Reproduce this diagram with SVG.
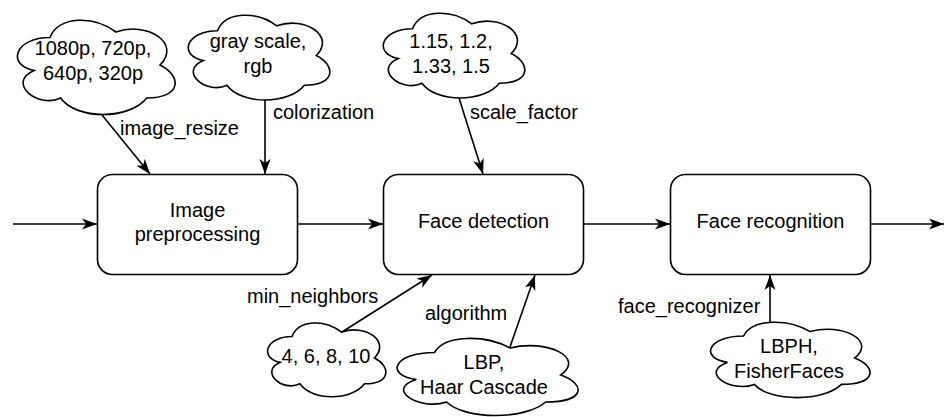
<svg xmlns="http://www.w3.org/2000/svg" width="945" height="417" viewBox="0 0 945 417">
  <style>
    .box { fill: #ffffff; stroke: #000000; stroke-width: 1.6; }
    .cloud { fill: #ffffff; stroke: #000000; stroke-width: 1.6; }
    .edge { fill: none; stroke: #000000; stroke-width: 1.6; marker-end: url(#arrow); }
    text { font-family: "Liberation Sans", Arial, Helvetica, sans-serif; font-size: 20px; fill: #000000; }
    .c { text-anchor: middle; }
  </style>
  <defs>
    <marker id="arrow" viewBox="0 0 16 12" markerWidth="16" markerHeight="12" refX="15" refY="6" orient="auto" markerUnits="userSpaceOnUse">
      <path d="M15,6 L0,0.5 L4,6 L0,11.5 Z" fill="#000000"/>
    </marker>
  </defs>
  <rect width="945" height="417" fill="#ffffff"/>

  <!-- connectors -->
  <g id="connectors">
    <line class="edge" x1="13" y1="224" x2="97" y2="224"/>
    <line class="edge" x1="298" y1="224" x2="383" y2="224"/>
    <line class="edge" x1="584" y1="224" x2="670" y2="224"/>
    <line class="edge" x1="871" y1="224" x2="944" y2="224"/>
    <line class="edge" x1="102" y1="115" x2="150" y2="174"/>
    <line class="edge" x1="265" y1="100" x2="265" y2="174"/>
    <line class="edge" x1="459" y1="98" x2="483" y2="174"/>
    <line class="edge" x1="342" y1="332" x2="432" y2="275"/>
    <line class="edge" x1="510" y1="347" x2="535" y2="275"/>
    <line class="edge" x1="770" y1="322.5" x2="770" y2="275"/>
    <text x="120" y="135">image_resize</text>
    <text x="273" y="119">colorization</text>
    <text x="470" y="119">scale_factor</text>
    <text x="247" y="303">min_neighbors</text>
    <text x="425" y="320">algorithm</text>
    <text x="618" y="313">face_recognizer</text>
  </g>

  <!-- process steps -->
  <g id="image-preprocessing">
    <rect class="box" x="97.5" y="174.5" width="200" height="100" rx="15" ry="15"/>
    <text class="c" x="197.5" y="217">Image</text>
    <text class="c" x="197.5" y="241">preprocessing</text>
  </g>
  <g id="face-detection">
    <rect class="box" x="383.5" y="174.5" width="200" height="100" rx="15" ry="15"/>
    <text class="c" x="483.5" y="228">Face detection</text>
  </g>
  <g id="face-recognition">
    <rect class="box" x="670.5" y="174.5" width="200" height="100" rx="15" ry="15"/>
    <text class="c" x="770.5" y="228">Face recognition</text>
  </g>

  <!-- parameter value clouds -->
  <g id="resize-values">
    <path class="cloud" d="M50,37.5 C14.8,37.5 6,65 34.16,70.5 C6,82.6 37.68,109 60.56,98 C76.4,120 129.2,120 146.8,98 C182,98 182,76 160,65 C182,43 146.8,21 116,32 C94,15.5 58.8,15.5 50,37.5 Z"/>
    <text class="c" x="93" y="55">1080p, 720p,</text>
    <text class="c" x="93" y="80">640p, 320p</text>
  </g>
  <g id="color-values">
    <path class="cloud" d="M217.5,30.75 C185.9,30.75 178,55.5 203.28,60.45 C178,71.34 206.44,95.1 226.98,85.2 C241.2,105 288.6,105 304.4,85.2 C336,85.2 336,65.4 316.25,55.5 C336,35.7 304.4,15.9 276.75,25.8 C257,10.95 225.4,10.95 217.5,30.75 Z"/>
    <text class="c" x="258" y="48">gray scale,</text>
    <text class="c" x="258" y="73">rgb</text>
  </g>
  <g id="scale-values">
    <path class="cloud" d="M412.5,28.75 C380.9,28.75 373,53.5 398.28,58.45 C373,69.34 401.44,93.1 421.98,83.2 C436.2,103 483.6,103 499.4,83.2 C531,83.2 531,63.4 511.25,53.5 C531,33.7 499.4,13.9 471.75,23.8 C452,8.95 420.4,8.95 412.5,28.75 Z"/>
    <text class="c" x="451" y="48">1.15, 1.2,</text>
    <text class="c" x="451" y="73">1.33, 1.5</text>
  </g>
  <g id="neighbor-values">
    <path class="cloud" d="M292,336.5 C265.6,336.5 259,358 280.12,362.3 C259,371.76 282.76,392.4 299.92,383.8 C311.8,401 351.4,401 364.6,383.8 C391,383.8 391,366.6 374.5,358 C391,340.8 364.6,323.6 341.5,332.2 C325,319.3 298.6,319.3 292,336.5 Z"/>
    <text class="c" x="326" y="363">4, 6, 8, 10</text>
  </g>
  <g id="detector-values">
    <path class="cloud" d="M434.5,352.5 C394.1,352.5 384,375 416.32,379.5 C384,389.4 420.36,411 446.62,402 C464.8,420 525.4,420 545.6,402 C586,402 586,384 560.75,375 C586,357 545.6,339 510.25,348 C485,334.5 444.6,334.5 434.5,352.5 Z"/>
    <text class="c" x="484" y="369">LBP,</text>
    <text class="c" x="484" y="394">Haar Cascade</text>
  </g>
  <g id="recognizer-values">
    <path class="cloud" d="M743.5,336 C707.9,336 699,358 727.48,362.4 C699,372.08 731.04,393.2 754.18,384.4 C770.2,402 823.6,402 841.4,384.4 C877,384.4 877,366.8 854.75,358 C877,340.4 841.4,322.8 810.25,331.6 C788,318.4 752.4,318.4 743.5,336 Z"/>
    <text class="c" x="789" y="353">LBPH,</text>
    <text class="c" x="789" y="378">FisherFaces</text>
  </g>
</svg>
